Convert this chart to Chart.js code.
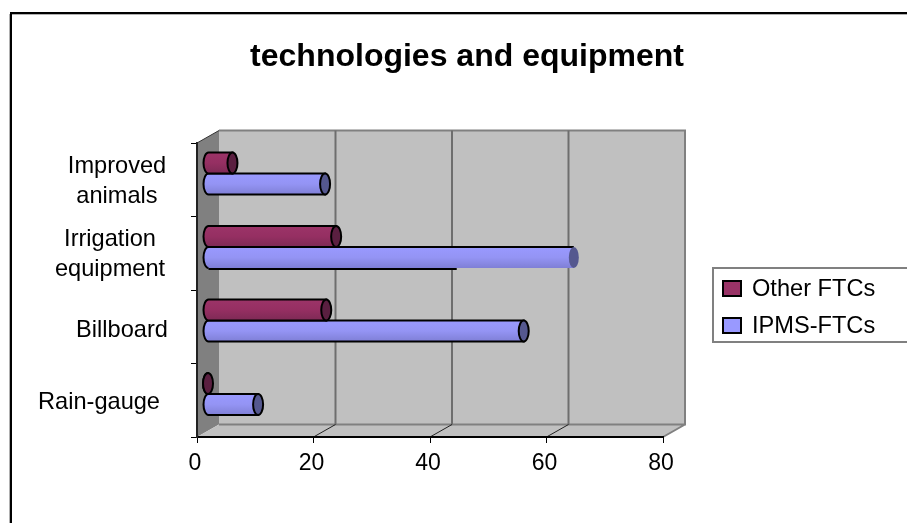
<!DOCTYPE html>
<html lang="en">

<head>
  <meta charset="UTF-8">
  <title>technologies and equipment</title>
  <script src="https://cdn.jsdelivr.net/npm/chart.js"></script>
  <style>
    html, body { margin: 0; padding: 0; background: #fff; overflow: hidden; }
    canvas { display: block; }
  </style>
</head>

<body>
  <canvas id="techChart" width="907" height="523"></canvas>

  <script>
    const categories = ['Rain-gauge', 'Billboard', ['Irrigation', 'equipment'], ['Improved', 'animals']];
    const otherFtcs = [0, 20.3, 22, 4.2];
    const ipmsFtcs = [8.6, 54.2, 62.8, 20.1];
    const xTickValues = [0, 20, 40, 60, 80];

    // the source chart has a stray line under the irrigation bar, ending about here
    const strayLineEnd = 42.7;

    // label placement is uneven in the original, so it is done by hand
    const labelCentres = [99, 122, 110, 117];
    const labelNudge = [2, 3.5, 1.5, 2];

    const depthX = 22, depthY = 12.5;
    const capRadius = 5;

    const tubeStyles = {
      'IPMS-FTCs': { fill: '#9999ff', top: '#9999ff', mid: '#9494f4', bottom: '#7f7fd6', cap: '#55588f' },
      'Other FTCs': { fill: '#993366', top: '#9c3468', mid: '#952f62', bottom: '#7d2a55', cap: '#5a1f40' }
    };

    function drawTube(ctx, el, style, stray, xScale) {
      const { x, y, base, height } = el.getProps(['x', 'y', 'base', 'height']);
      const h = height / 2;
      const g = ctx.createLinearGradient(0, y - h, 0, y + h);
      g.addColorStop(0, style.top);
      g.addColorStop(0.5, style.mid);
      g.addColorStop(1, style.bottom);

      ctx.beginPath();
      ctx.ellipse(base, y, capRadius, h, 0, Math.PI * 0.5, Math.PI * 1.5);
      ctx.lineTo(x, y - h);
      ctx.lineTo(x, y + h);
      ctx.closePath();
      ctx.fillStyle = g;
      ctx.fill();

      ctx.strokeStyle = '#000';
      ctx.lineWidth = 2;
      if (stray) {
        ctx.beginPath();
        ctx.moveTo(base, y + h);
        ctx.ellipse(base, y, capRadius, h, 0, Math.PI * 0.5, Math.PI * 1.5);
        ctx.lineTo(x, y - h);
        ctx.stroke();
        ctx.beginPath();
        ctx.moveTo(base, y + h + 1);
        ctx.lineTo(xScale.getPixelForValue(strayLineEnd), y + h + 1);
        ctx.stroke();
      } else {
        ctx.stroke();
      }

      ctx.beginPath();
      ctx.ellipse(x, y, capRadius, h, 0, 0, Math.PI * 2);
      ctx.fillStyle = style.cap;
      ctx.fill();
      if (!stray) ctx.stroke();
    }

    // frame and the grey box behind the bars
    const backdrop = {
      id: 'backdrop',
      beforeDraw(chart) {
        const ctx = chart.ctx;
        const { left, right, top, bottom } = chart.chartArea;
        const x = chart.scales.x;

        ctx.save();
        ctx.fillStyle = '#b0b0b0';
        ctx.fillRect(12, 14, chart.width, 1);
        ctx.fillRect(9, 14, 1, chart.height);
        ctx.fillStyle = '#000';
        ctx.fillRect(10, 12, chart.width, 2);
        ctx.fillRect(10, 12, 2, chart.height);

        ctx.beginPath();
        ctx.moveTo(left, top);
        ctx.lineTo(left + depthX, top - depthY);
        ctx.lineTo(left + depthX, bottom - depthY);
        ctx.lineTo(left, bottom);
        ctx.closePath();
        ctx.fillStyle = '#808080';
        ctx.fill();
        ctx.beginPath();
        ctx.moveTo(left, top);
        ctx.lineTo(left + depthX, top - depthY);
        ctx.strokeStyle = '#333';
        ctx.lineWidth = 1;
        ctx.stroke();

        ctx.fillStyle = '#c0c0c0';
        ctx.fillRect(left + depthX, top - depthY, right - left, bottom - top);
        ctx.beginPath();
        ctx.moveTo(left, bottom);
        ctx.lineTo(left + depthX, bottom - depthY);
        ctx.lineTo(right + depthX, bottom - depthY);
        ctx.lineTo(right, bottom);
        ctx.closePath();
        ctx.fill();

        ctx.strokeStyle = '#808080';
        ctx.lineWidth = 2;
        ctx.beginPath();
        ctx.moveTo(left + depthX, top - depthY);
        ctx.lineTo(right + depthX, top - depthY);
        ctx.lineTo(right + depthX, bottom - depthY);
        ctx.lineTo(left + depthX, bottom - depthY);
        ctx.moveTo(right, bottom);
        ctx.lineTo(right + depthX, bottom - depthY);
        ctx.stroke();

        xTickValues.slice(1, -1).forEach(v => {
          const px = x.getPixelForValue(v);
          ctx.strokeStyle = '#6e6e6e';
          ctx.lineWidth = 2;
          ctx.beginPath();
          ctx.moveTo(px + depthX, top - depthY);
          ctx.lineTo(px + depthX, bottom - depthY);
          ctx.stroke();
          ctx.strokeStyle = '#222';
          ctx.lineWidth = 1;
          ctx.beginPath();
          ctx.moveTo(px, bottom);
          ctx.lineTo(px + depthX, bottom - depthY);
          ctx.stroke();
        });
        ctx.restore();
      },
      beforeDatasetDraw(chart) {
        chart.ctx.save();
        chart.ctx.translate(depthX / 2, -depthY / 2);
      },
      afterDatasetDraw(chart, args) {
        const ctx = chart.ctx;
        const label = chart.data.datasets[args.index].label;
        args.meta.data.forEach((el, i) => {
          const stray = label === 'IPMS-FTCs' && i === 2;
          drawTube(ctx, el, tubeStyles[label], stray, chart.scales.x);
        });
        ctx.restore();
      }
    };

    const sideLabels = {
      id: 'sideLabels',
      afterDraw(chart) {
        const ctx = chart.ctx;
        const y = chart.scales.y;
        ctx.save();
        ctx.font = '23.6px "Liberation Sans"';
        ctx.fillStyle = '#000';
        ctx.textAlign = 'center';
        ctx.textBaseline = 'middle';
        categories.forEach((cat, i) => {
          const lines = [].concat(cat);
          const mid = y.getPixelForValue(i) + labelNudge[i];
          lines.forEach((line, n) => {
            ctx.fillText(line, labelCentres[i], mid + (n - (lines.length - 1) / 2) * 30);
          });
        });

        // legend box runs off the right edge in the original
        ctx.strokeStyle = '#808080';
        ctx.lineWidth = 2;
        ctx.strokeRect(713, 268, chart.width, 74);
        ctx.textAlign = 'left';
        chart.data.datasets.forEach((ds, i) => {
          const rowY = 288 + i * 37;
          ctx.fillStyle = ds.backgroundColor;
          ctx.fillRect(723, rowY - 7, 18, 15);
          ctx.strokeStyle = '#000';
          ctx.strokeRect(723, rowY - 7, 18, 15);
          ctx.fillStyle = '#000';
          ctx.fillText(ds.label, 752, rowY + 1);
        });
        ctx.restore();
      }
    };

    new Chart(document.getElementById('techChart'), {
      type: 'bar',
      data: {
        labels: categories,
        datasets: [
          { label: 'Other FTCs', data: otherFtcs, backgroundColor: tubeStyles['Other FTCs'].fill },
          { label: 'IPMS-FTCs', data: ipmsFtcs, backgroundColor: tubeStyles['IPMS-FTCs'].fill }
        ]
      },
      plugins: [backdrop, sideLabels],
      options: {
        indexAxis: 'y',
        responsive: false,
        animation: false,
        clip: false,
        categoryPercentage: 0.57,
        barPercentage: 1,
        layout: { padding: { left: 27, right: 0, top: 0, bottom: 0 } },
        font: { family: '"Liberation Sans"' },
        plugins: {
          legend: { display: false },
          tooltip: { enabled: false },
          title: {
            display: true,
            text: 'technologies and equipment',
            color: '#000',
            font: { family: '"Liberation Sans"', size: 32, weight: 'bold' },
            padding: { top: 38, bottom: 66.6 }
          }
        },
        scales: {
          x: {
            min: 0,
            max: 80,
            afterBuildTicks: axis => { axis.ticks = xTickValues.map(v => ({ value: v })); },
            afterFit: axis => { axis.height = 86; },
            grid: { drawOnChartArea: false, tickLength: 6, color: '#000' },
            border: { color: '#000', width: 2 },
            ticks: {
              color: '#000',
              padding: 7,
              maxRotation: 0,
              labelOffset: -2,
              font: { family: '"Liberation Sans"', size: 23 }
            }
          },
          y: {
            reverse: true,
            afterFit: axis => { axis.width = 170; },
            grid: { offset: true, drawOnChartArea: false, tickLength: 6, color: '#000' },
            border: { color: '#222', width: 2 },
            ticks: { display: false }
          },
          // empty axis that only keeps the room for the legend on the right
          spacer: {
            type: 'linear',
            axis: 'y',
            position: 'right',
            afterFit: axis => { axis.width = 244; },
            grid: { display: false },
            border: { display: false },
            ticks: { display: false }
          }
        }
      }
    });
  </script>
</body>

</html>
